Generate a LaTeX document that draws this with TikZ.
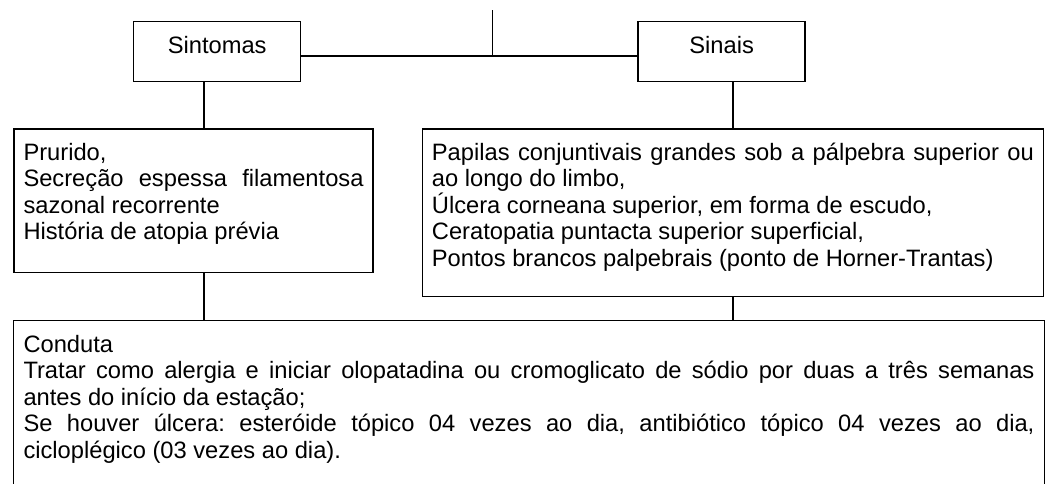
\documentclass[tikz,border=0pt]{standalone}
\usepackage{fontspec}
\setmainfont{Liberation Sans}
\usepackage{tikz}
\usetikzlibrary{positioning}
\hyphenpenalty=10000
\exhyphenpenalty=10000
\frenchspacing

\begin{document}
\begin{tikzpicture}[x=1pt, y=-1pt,
    font=\fontsize{23.7}{26.5}\selectfont,
    titlebox/.style={draw, line width=1.4pt, text width=148pt, align=center,
        inner xsep=9.5pt, inner ysep=0pt, text height=32pt, text depth=28pt},
    textbox/.style={draw, line width=1.4pt, align=justify,
        inner xsep=9.5pt, inner ysep=0pt, text height=31pt},
    link/.style={line width=1.4pt}]

    \useasboundingbox (0,0) rectangle (1048,483);

    \node[titlebox, anchor=north west] (sint) at (133,20.7) {Sintomas};
    \node[titlebox, right=336pt of sint] (sinais) {Sinais};

    \node[textbox, text width=340pt, text depth=112.4pt, anchor=north west] (prur) at (13.3,128.3)
        {Prurido,\\
         Secreção espessa filamentosa\linebreak sazonal recorrente\\
         História de atopia prévia};
    \node[textbox, text width=602pt, text depth=136.7pt, anchor=north west] (sig) at (421.7,128.3)
        {Papilas conjuntivais grandes sob a pálpebra superior ou\linebreak ao longo do limbo,\\
         Úlcera corneana superior, em forma de escudo,\\
         Ceratopatia puntacta superior superficial,\\
         Pontos brancos palpebrais (ponto de Horner-Trantas)};

    % caixa de baixo, aberta embaixo (cortada pela borda da figura)
    \node[textbox, draw=none, text width=1011pt, text depth=200pt, below=47.6pt of prur.south west, anchor=north west] (cond)
        {Conduta\\
         Tratar como alergia e iniciar olopatadina ou cromoglicato de sódio por duas a três semanas\linebreak antes do início da estação;\\
         Se houver úlcera: esteróide tópico 04 vezes ao dia, antibiótico tópico 04 vezes ao dia,\linebreak cicloplégico (03 vezes ao dia).};
    \draw[link] (cond.south west) |- (cond.north east) -- (cond.south east);

    \coordinate (top) at (492.7,10);
    \coordinate (join) at (492.7,56);
    \coordinate (lx) at (204,0);

    \draw[link] (top) -- (join);
    \draw[link] (sint.east |- join) -- (sinais.west |- join);
    \draw[link] (sint.south -| lx) -- (prur.north -| lx);
    \draw[link] (sinais.south -| sig.north) -- (sig.north);
    \draw[link] (prur.south -| lx) -- (cond.north -| lx);
    \draw[link] (sig.south) -- (cond.north -| sig.south);

\end{tikzpicture}
\end{document}
